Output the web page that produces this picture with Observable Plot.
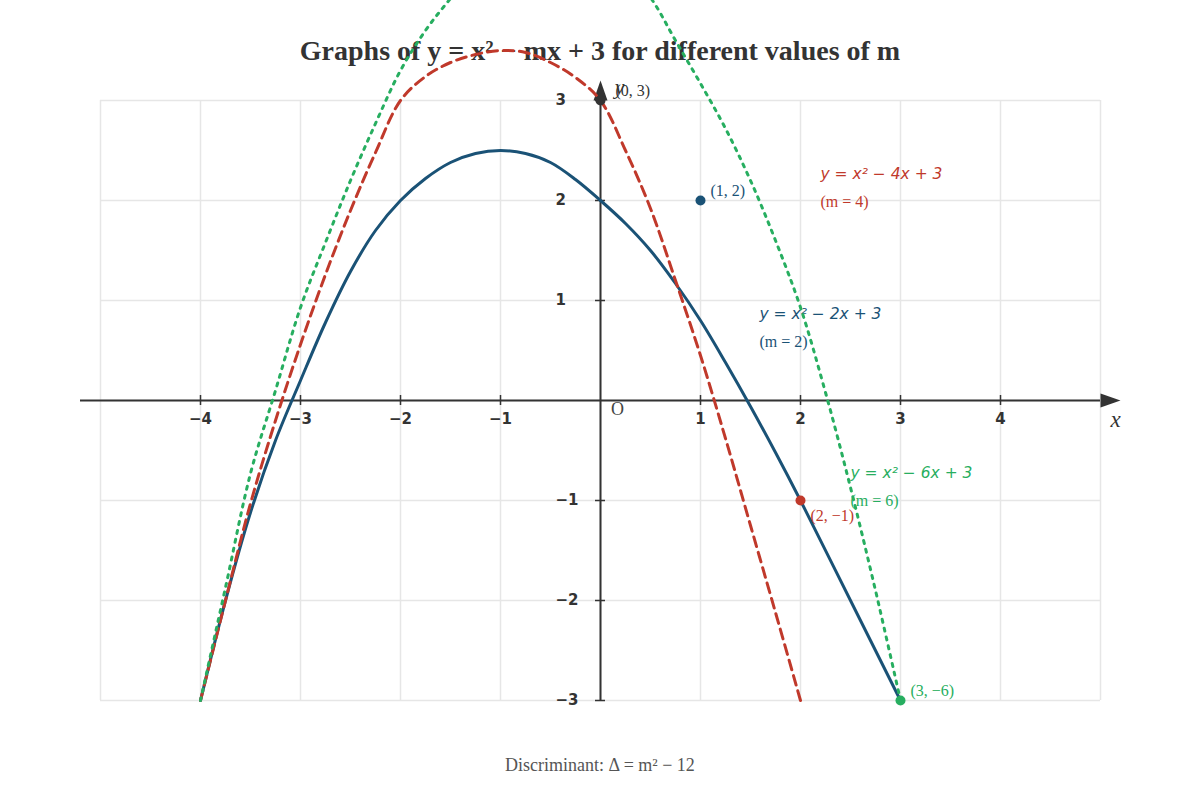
<!DOCTYPE html>
<html>
<head>
<meta charset="utf-8">
<script src="https://cdn.jsdelivr.net/npm/d3@7"></script>
<script src="https://cdn.jsdelivr.net/npm/@observablehq/plot@0.6"></script>
<style>
  body { margin: 0; background: #fff; width: 1200px; height: 800px; overflow: hidden; }
  #title { font-family: "Liberation Serif", "Times New Roman", serif; font-weight: bold; font-size: 28px;
           line-height: 28px; color: #333; text-align: center; padding-top: 37px; height: 43px; }
  #chart svg { display: block; overflow: visible; }
  #caption { font-family: "Liberation Serif", "Times New Roman", serif; font-size: 18px; line-height: 18px;
             color: #555; text-align: center; padding-top: 16px; }
</style>
</head>
<body>
<div id="title">Graphs of y = x² − mx + 3 for different values of m</div>
<div id="chart"></div>
<div id="caption">Discriminant: Δ = m² − 12</div>
<script>
// ---- data ----
const xDomain = [-5, 5];
const yDomain = [-3, 3];
const gridX = [-5, -4, -3, -2, -1, 0, 1, 2, 3, 4, 5];
const gridY = [-3, -2, -1, 0, 1, 2, 3];
const xTicks = [-4, -3, -2, -1, 1, 2, 3, 4];
const xTickLabels = ["−4", "−3", "−2", "−1", "1", "2", "3", "4"];
const yTicks = [-3, -2, -1, 1, 2, 3];
const yTickLabels = ["−3", "−2", "−1", "1", "2", "3"];

// m = 2 (solid blue)
const blueX = [-4, -3.75, -3.5, -3.25, -3, -2.75, -2.5, -2.25, -2, -1.75, -1.5, -1.25, -1, -0.75, -0.5, -0.25, 0,
               0.25, 0.5, 0.75, 1, 1.25, 1.5, 1.75, 2, 2.5, 3];
const blueY = [-3, -2, -1.12, -0.4, 0.2, 0.78, 1.29, 1.7, 2.0, 2.22, 2.38, 2.47, 2.5, 2.47, 2.38, 2.21, 2.0,
               1.77, 1.5, 1.17, 0.8, 0.38, -0.06, -0.52, -1, -2, -3];
// m = 4 (dashed red)
const redX = [-4, -3.75, -3.5, -3.25, -3, -2.75, -2.5, -2.25, -2, -1.75, -1.5, -1.25, -1, -0.75, -0.5, -0.25, 0,
              0.25, 0.5, 0.75, 1, 1.25, 1.5, 1.75, 2];
const redY = [-3, -2, -1.03, -0.2, 0.56, 1.26, 1.9, 2.48, 3.0, 3.24, 3.38, 3.46, 3.5, 3.48, 3.38, 3.23, 3.0,
              2.5, 1.92, 1.2, 0.45, -0.38, -1.25, -2.12, -3];
// m = 6 (dotted green)
const greenX = [-4, -3.75, -3.5, -3.25, -3, -2.75, -2.5, -2.25, -2, -1.75, -1.5, -1, -0.4, 0, 0.5,
                0.75, 1, 1.25, 1.5, 1.75, 2, 2.25, 2.5, 2.75, 3];
const greenY = [-3, -1.87, -0.73, 0.1, 0.93, 1.58, 2.2, 2.77, 3.3, 3.7, 4.02, 4.6, 4.8, 4.65, 4.03,
                3.6, 3.17, 2.72, 2.2, 1.6, 0.93, 0.08, -0.87, -1.9, -3];

const mValues = [2, 4, 6];
const equations = ["y = x² − 2x + 3", "y = x² − 4x + 3", "y = x² − 6x + 3"];
const mLabels = ["(m = 2)", "(m = 4)", "(m = 6)"];
const eqAnchorX = [1.59, 2.2, 2.5];
const eqAnchorY = [0.86, 2.26, -0.73];

const pointX = [0, 1, 2, 3];
const pointY = [3, 2, -1, -6];
const pointLabels = ["(0, 3)", "(1, 2)", "(2, −1)", "(3, −6)"];

// ---- styles ----
const ink = "#333";
const colors = ["#1a5276", "#c0392b", "#27ae60"];
const pointColors = [ink, colors[0], colors[1], colors[2]];
const serif = "Liberation Serif, Times New Roman, serif";
const sans = "DejaVu Sans, sans-serif";

const toRows = (xs, ys) => xs.map((x, i) => ({x, y: ys[i]}));
const points = pointX.map((x, i) => ({x, y: pointY[i], label: pointLabels[i], color: pointColors[i]}));
const clampY = d => Math.max(yDomain[0], Math.min(yDomain[1], d.y));
const eqRows = mValues.map((m, i) => ({m, x: eqAnchorX[i], y: eqAnchorY[i], eq: equations[i], ml: mLabels[i], color: colors[i]}));

const arrowSymbol = {
  draw(ctx) { ctx.moveTo(10, 0); ctx.lineTo(-10, -7); ctx.lineTo(-10, 7); ctx.closePath(); }
};

const chart = Plot.plot({
  width: 1200, height: 660,
  marginTop: 20, marginBottom: 40, marginLeft: 100, marginRight: 100,
  x: {domain: xDomain, axis: null},
  y: {domain: yDomain, axis: null},
  style: {overflow: "visible", background: "transparent"},
  marks: [
    // grid
    Plot.ruleX(gridX, {x: d => d, y1: yDomain[0], y2: yDomain[1], stroke: "#e6e6e6", strokeWidth: 1.5}),
    Plot.ruleY(gridY, {y: d => d, x1: xDomain[0], x2: xDomain[1], stroke: "#e6e6e6", strokeWidth: 1.5}),
    // axes
    Plot.ruleY([0], {x1: -5.2, x2: xDomain[1], stroke: ink, strokeWidth: 2}),
    Plot.ruleX([0], {y1: yDomain[0], y2: yDomain[1], stroke: ink, strokeWidth: 2}),
    Plot.dot([{x: 5.1, y: 0}], {x: "x", y: "y", symbol: arrowSymbol, fill: ink, stroke: "none"}),
    Plot.dot([{x: 0, y: 3.1}], {x: "x", y: "y", symbol: arrowSymbol, rotate: -90, fill: ink, stroke: "none"}),
    // tick marks
    Plot.ruleX(xTicks, {x: d => d, y1: -0.05, y2: 0.05, stroke: ink, strokeWidth: 1.5}),
    Plot.ruleY(yTicks, {y: d => d, x1: -0.05, x2: 0.05, stroke: ink, strokeWidth: 1.5}),
    // tick labels
    Plot.text(xTicks, {x: d => d, y: () => 0, dy: 19, text: (d, i) => xTickLabels[i],
      fontFamily: sans, fontWeight: "bold", fontSize: 15, fill: ink}),
    Plot.text(yTicks, {x: () => 0, y: d => d, dx: -45, textAnchor: "start", text: (d, i) => yTickLabels[i],
      fontFamily: sans, fontWeight: "bold", fontSize: 15, fill: ink}),
    Plot.text(["O"], {x: () => 0, y: () => 0, dx: 17, dy: 9, text: d => d, fontFamily: serif, fontSize: 18, fill: "#444"}),
    Plot.text(["x"], {x: () => 5.15, y: () => 0, dy: 19, text: d => d, fontFamily: serif, fontStyle: "italic", fontSize: 23, fill: ink}),
    Plot.text(["y"], {x: () => 0, y: () => 3, dx: 19, dy: -14, text: d => d, fontFamily: serif, fontStyle: "italic", fontSize: 22, fill: ink}),
    // curve labels
    Plot.text(eqRows, {x: "x", y: "y", text: "eq", fill: d => d.color, textAnchor: "start",
      fontFamily: sans, fontStyle: "italic", fontSize: 15.5}),
    Plot.text(eqRows, {x: "x", y: "y", dy: 27, text: "ml", fill: d => d.color, textAnchor: "start",
      fontFamily: serif, fontSize: 16}),
    // curves
    Plot.line(toRows(blueX, blueY), {x: "x", y: "y", stroke: colors[0], strokeWidth: 3, curve: "catmull-rom"}),
    Plot.line(toRows(redX, redY), {x: "x", y: "y", stroke: colors[1], strokeWidth: 3, strokeDasharray: "10,6", curve: "catmull-rom"}),
    Plot.line(toRows(greenX, greenY), {x: "x", y: "y", stroke: colors[2], strokeWidth: 3, strokeDasharray: "3,6", curve: "catmull-rom"}),
    // points
    Plot.dot(points, {x: "x", y: clampY, r: 5, fill: d => d.color, stroke: "none"}),
    Plot.text(points.filter(d => d.x === 0), {x: "x", y: clampY, dx: 15, dy: -10, text: "label", textAnchor: "start",
      fill: d => d.color, fontFamily: serif, fontSize: 16}),
    Plot.text(points.filter(d => d.x === 1 || d.x === 3), {x: "x", y: clampY, dx: 10, dy: -10, text: "label", textAnchor: "start",
      fill: d => d.color, fontFamily: serif, fontSize: 16}),
    Plot.text(points.filter(d => d.x === 2), {x: "x", y: clampY, dx: 10, dy: 15, text: "label", textAnchor: "start",
      fill: d => d.color, fontFamily: serif, fontSize: 16})
  ]
});
chart.style.overflow = "visible";
document.getElementById("chart").append(chart);
</script>
</body>
</html>
